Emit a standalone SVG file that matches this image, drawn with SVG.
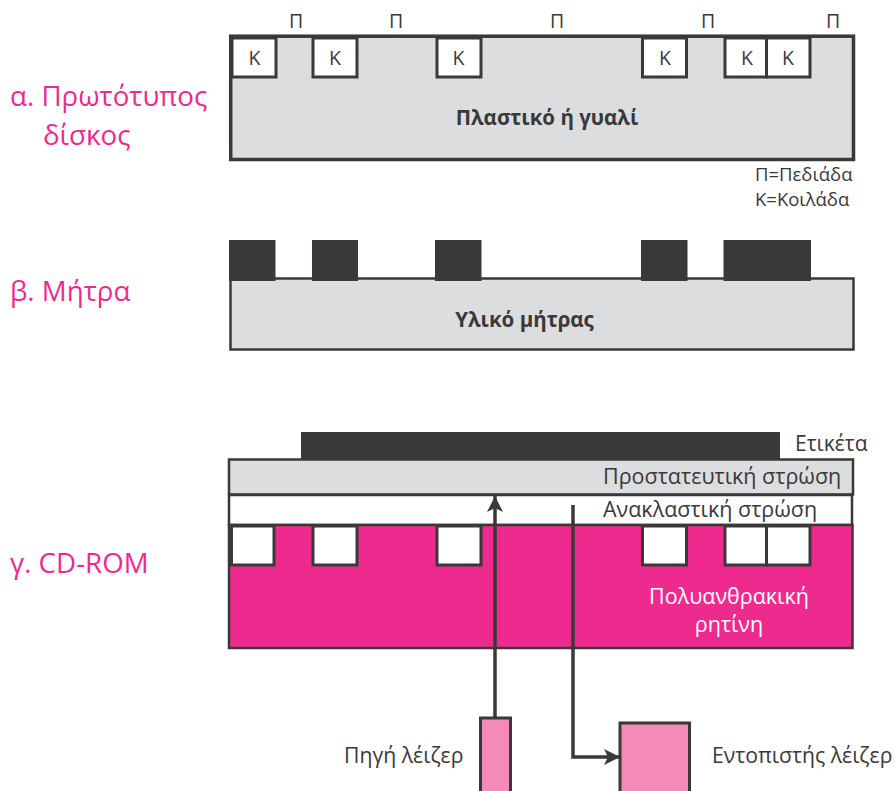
<svg xmlns="http://www.w3.org/2000/svg" width="895" height="791" viewBox="0 0 895 791">
<style>
text{font-family:"Open Sans","Noto Sans","Liberation Sans",sans-serif;fill:#3a3839}
.pk{fill:#ee2a8f;font-size:27.7px}
.s{font-size:21.5px}
.m{font-size:19.5px;text-anchor:middle}
.b{font-size:20.5px;font-weight:700;text-anchor:middle}
.lg{font-size:18.5px}
.k{fill:#fff;stroke:#3a3839;stroke-width:3}
.gr{fill:#dcddde;stroke:#3a3839}
.d{fill:#3a3839}
.l{fill:#f48ab8;stroke:#3a3839;stroke-width:3}
.c{fill:none;stroke:#3a3839;stroke-width:3.5}
</style>
<defs>
<marker id="ah" markerUnits="userSpaceOnUse" markerWidth="18" markerHeight="18" refX="16" refY="9" orient="auto"><path d="M0 1L16 9L0 17L4 9Z" fill="#3a3839"/></marker>
</defs>
<rect width="895" height="791" fill="#fff"/>
<g id="label-a"><text class="pk" x="10" y="106">α. Πρωτότυπος</text><text class="pk" x="43" y="145">δίσκος</text></g>
<text class="pk" x="10" y="301" id="label-b">β. Μήτρα</text>
<text class="pk" x="10" y="573" id="label-c">γ. CD-ROM</text>
<g id="disc-a">
<rect class="gr" x="230.7" y="36.2" width="622.8" height="123.3" stroke-width="3.5"/>
<rect class="k" x="232" y="38" width="44" height="39"/>
<rect class="k" x="313" y="38" width="44" height="39"/>
<rect class="k" x="437" y="38" width="44" height="39"/>
<rect class="k" x="642.5" y="38" width="44" height="39"/>
<rect class="k" x="725" y="38" width="41.5" height="39"/>
<rect class="k" x="766.5" y="38" width="43.5" height="39"/>
<text class="m" x="254.500" y="65">Κ</text><text class="m" x="335" y="65">Κ</text><text class="m" x="458.500" y="65">Κ</text><text class="m" x="665" y="65">Κ</text><text class="m" x="747" y="65">Κ</text><text class="m" x="788" y="65">Κ</text>
<text class="m" x="296" y="28">Π</text><text class="m" x="396" y="28">Π</text><text class="m" x="557" y="28">Π</text><text class="m" x="708" y="28">Π</text><text class="m" x="833" y="28">Π</text>
<text class="b" x="547" y="125">Πλαστικό ή γυαλί</text>
<text class="lg" x="755" y="181">Π=Πεδιάδα</text>
<text class="lg" x="755" y="206">Κ=Κοιλάδα</text>
</g>
<g id="stamper">
<rect class="gr" x="230.500" y="278.500" width="623" height="71" stroke-width="2.500"/>
<rect class="d" x="229" y="240" width="46.500" height="41"/>
<rect class="d" x="312" y="240" width="46" height="41"/>
<rect class="d" x="435" y="240" width="46.500" height="41"/>
<rect class="d" x="641" y="240" width="46.500" height="41"/>
<rect class="d" x="723.500" y="240" width="87.500" height="41"/>
<text class="b" x="524.500" y="327">Υλικό μήτρας</text>
</g>
<g id="cdrom">
<rect class="d" x="301" y="432" width="479" height="28"/>
<rect class="gr" x="229" y="459.500" width="624" height="35" stroke-width="2.500"/>
<rect x="229" y="495" width="623" height="30" fill="#fff" stroke="#3a3839" stroke-width="2.500"/>
<rect x="229" y="525" width="623.500" height="123" fill="#ee2a8f" stroke="#3a3839" stroke-width="2.500"/>
<rect class="k" x="231.500" y="526" width="42.500" height="39"/>
<rect class="k" x="313" y="526" width="44" height="39"/>
<rect class="k" x="437" y="526" width="44" height="39"/>
<rect class="k" x="642.500" y="526" width="44" height="39"/>
<rect class="k" x="725" y="526" width="41.500" height="39"/>
<rect class="k" x="766.500" y="526" width="43.500" height="39"/>
<text x="795" y="451" font-size="21">Ετικέτα</text>
<text class="s" x="603" y="484">Προστατευτική στρώση</text>
<text class="s" x="603" y="517">Ανακλαστική στρώση</text>
<text class="s" x="729" y="604" text-anchor="middle" style="fill:#fff">Πολυανθρακική</text>
<text class="s" x="729" y="632" text-anchor="middle" style="fill:#fff">ρητίνη</text>
</g>
<g id="laser-source">
<rect class="l" x="480.500" y="718" width="30" height="75"/>
<text x="344" y="763" font-size="21.200">Πηγή λέιζερ</text>
</g>
<g id="laser-detector">
<rect class="l" x="620" y="723" width="69.500" height="70"/>
<text x="712" y="763" font-size="21.200">Εντοπιστής λέιζερ</text>
</g>
<g id="connectors">
<path class="c" d="M495 717V496" marker-end="url(#ah)"/>
<path class="c" d="M573 505V757H620" marker-end="url(#ah)"/>
</g>
</svg>
